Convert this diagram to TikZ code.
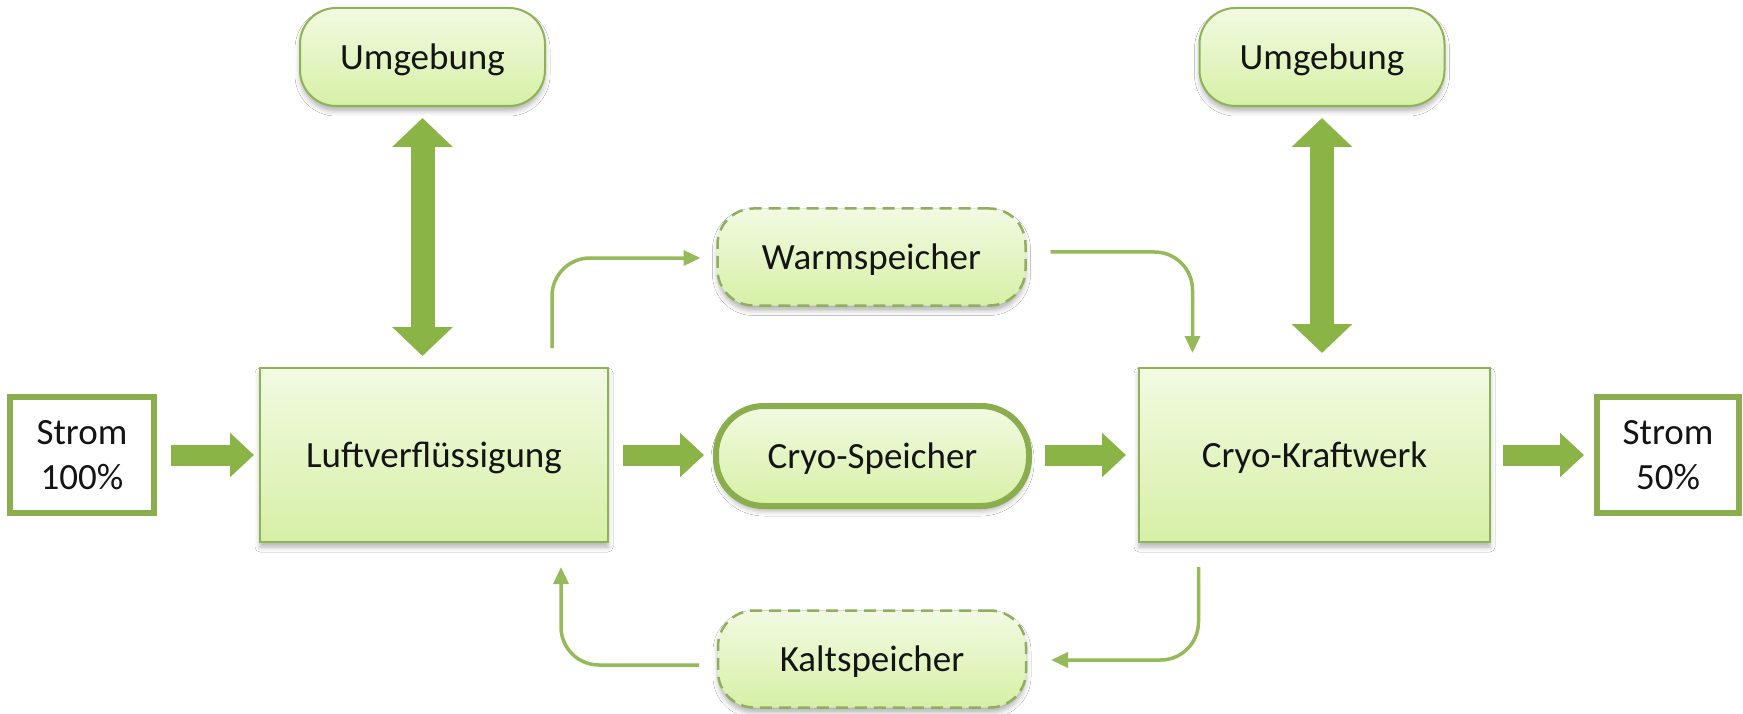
\documentclass[tikz,border=0pt]{standalone}
\usepackage{fontspec}
\setmainfont{Carlito}
\usetikzlibrary{arrows.meta,calc,shadows.blur}
\definecolor{gborder}{HTML}{8DB356}
\definecolor{gdash}{HTML}{8FAE5E}
\definecolor{gthick}{HTML}{8AAE4E}
\definecolor{gtop}{HTML}{F2FAE2}
\definecolor{gbot}{HTML}{D6F0A6}
\definecolor{garrow}{HTML}{8BB447}
\definecolor{gline}{HTML}{95BA5A}
\definecolor{txt}{HTML}{141414}
\begin{document}
\begin{tikzpicture}[x=1pt,y=-1pt,
  every node/.style={font=\fontsize{37}{45}\selectfont, text=txt, align=center, inner sep=0pt, outer sep=0pt},
  oneline/.style={text height=27pt, text depth=2pt},
  boxshadow/.style={blur shadow={shadow xshift=0pt, shadow yshift=-5pt, shadow blur radius=5pt, shadow opacity=30}},
  procbox/.style={draw=gborder, line width=2pt, top color=gtop, bottom color=gbot, boxshadow, oneline},
  roundbox/.style={procbox, rounded corners=36pt},
  storebox/.style={draw=gdash, line width=2.5pt, top color=gtop, bottom color=gbot, boxshadow, oneline, rounded corners=36pt, dash pattern=on 12pt off 7pt},
  cryobox/.style={draw=gthick, line width=6pt, top color=gtop, bottom color=gbot, rounded corners=48pt, boxshadow, oneline},
  strombox/.style={draw=gthick, line width=6pt, fill=white},
  blockarrow/.style={draw=garrow, line width=21pt, -{Triangle[length=24pt,width=43pt]}},
  dblarrow/.style={draw=garrow, line width=24pt, {Triangle[length=29pt,width=59pt]}-{Triangle[length=29pt,width=59pt]}},
  thinarrow/.style={draw=gline, line width=3.5pt, rounded corners=38pt, -{Triangle[length=17pt,width=15pt]}},
]
\useasboundingbox (0,0) rectangle (1743,714);
\fill[white] (0,0) rectangle (1743,714);

\node[strombox, minimum width=144pt, minimum height=116pt] (s1) at (82,455) {Strom\\100\%};
\node[procbox, minimum width=348pt, minimum height=174pt] (luft) at (434,455) {Luftverflüssigung};
\node[cryobox, minimum width=313pt, minimum height=100pt] (cryo) at (872.5,456) {Cryo-Speicher};
\node[procbox, minimum width=351pt, minimum height=174pt] (kw) at (1314.5,455) {Cryo-Kraftwerk};
\node[strombox, minimum width=142pt, minimum height=116pt] (s2) at (1668,455) {Strom\\50\%};
\node[roundbox, minimum width=245pt, minimum height=98pt] (u1) at (422.5,57) {Umgebung};
\node[roundbox, minimum width=245pt, minimum height=98pt] (u2) at (1322,57) {Umgebung};
\node[storebox, minimum width=308pt, minimum height=97pt] (warm) at (871.5,257) {Warmspeicher};
\node[storebox, minimum width=308pt, minimum height=97pt] (kalt) at (872,659) {Kaltspeicher};

\draw[blockarrow, shorten <=17pt, shorten >=6pt] (s1.east) -- (luft.west);
\draw[blockarrow, shorten <=15pt, shorten >=12pt] (luft.east) -- (luft.east -| cryo.west);
\draw[blockarrow, shorten <=16pt, shorten >=13pt] (cryo.east |- kw.west) -- (kw.west);
\draw[blockarrow, shorten <=13pt, shorten >=13pt] (kw.east) -- (s2.west);

\draw[dblarrow, shorten <=12pt, shorten >=12pt] (u1.south) -- (u1.south |- luft.north);
\draw[dblarrow, shorten <=12pt, shorten >=15pt] (u2.south) -- (u2.south |- kw.north);

\draw[thinarrow] ($(luft.north)+(118,-20)$) |- ($(warm.west)+(-17,1)$);
\draw[thinarrow] ($(warm.east)+(25,-5)$) -| ($(kw.north)+(-122,-15)$);
\draw[thinarrow] ($(kw.south)+(-116,25)$) |- ($(kalt.east)+(25,1)$);
\draw[thinarrow] ($(kalt.west)+(-19,6)$) -| ($(luft.south)+(127,25)$);
\end{tikzpicture}
\end{document}
